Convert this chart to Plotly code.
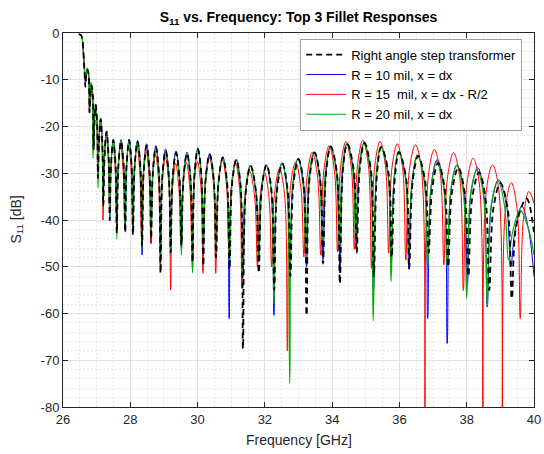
import plotly.graph_objects as go

# ---------------- data ----------------
freq_ticks = [26, 28, 30, 32, 34, 36, 38, 40]
db_ticks = [0, -10, -20, -30, -40, -50, -60, -70, -80]

legend_names = ["Right angle step transformer",
                "R = 10 mil, x = dx",
                "R = 15\u00a0 mil, x = dx - R/2",
                "R = 20 mil, x = dx"]

# curve vertices; after the initial roll-off, each row is one lobe:
# dip, left shoulder, peak, right shoulder
black_f = [26.47, 26.53, 26.57, 26.60, 26.635,
           26.665, 26.688, 26.73, 26.768,
           26.79, 26.812, 26.85, 26.888,
           26.91, 26.933, 26.975, 27.017,
           27.04, 27.069, 27.12, 27.171,
           27.20, 27.234, 27.295, 27.356,
           27.39, 27.428, 27.495, 27.562,
           27.60, 27.645, 27.725, 27.805,
           27.85, 27.891, 27.965, 28.039,
           28.08, 28.129, 28.215, 28.301,
           28.35, 28.399, 28.485, 28.571,
           28.62, 28.670, 28.76, 28.850,
           28.90, 28.954, 29.05, 29.146,
           29.20, 29.258, 29.36, 29.462,
           29.52, 29.579, 29.685, 29.791,
           29.85, 29.908, 30.01, 30.112,
           30.17, 30.238, 30.36, 30.482,
           30.55, 30.622, 30.75, 30.878,
           30.95, 31.022, 31.15, 31.278,
           31.35, 31.435, 31.58, 31.735,
           31.82, 31.903, 32.05, 32.197,
           32.28, 32.366, 32.52, 32.674,
           32.76, 32.846, 33.0, 33.154,
           33.24, 33.328, 33.48, 33.642,
           33.73, 33.82, 33.96, 34.14,
           34.23, 34.32, 34.45, 34.64,
           34.73, 34.822, 34.96, 35.148,
           35.24, 35.335, 35.46, 35.675,
           35.77, 35.864, 35.99, 36.196,
           36.29, 36.394, 36.56, 36.766,
           36.87, 36.974, 37.15, 37.346,
           37.45, 37.558, 37.75, 37.942,
           38.05, 38.162, 38.37, 38.558,
           38.67, 38.791, 39.0, 39.219,
           39.34, 39.48, 39.78,
           40.0]
black_db = [-0.3, -0.4, -1.2, -3.5, -7.5,
            -11.5, -9.3, -7.9, -9.3,
            -17.0, -13.5, -11.2, -13.5,
            -25.0, -19.7, -15.4, -19.7,
            -31.0, -23.9, -18.4, -23.9,
            -37.0, -26.6, -21.1, -26.6,
            -40.0, -28.4, -22.9, -28.4,
            -42.8, -28.7, -23.2, -28.7,
            -42.6, -28.4, -22.9, -28.4,
            -43.2, -28.7, -23.2, -28.7,
            -45.5, -29.6, -24.1, -29.6,
            -44.0, -29.9, -24.4, -29.9,
            -51.4, -30.7, -25.2, -30.7,
            -47.0, -31.1, -25.6, -31.1,
            -45.5, -31.3, -25.8, -31.3,
            -49.0, -30.3, -24.8, -30.3,
            -49.8, -31.4, -25.9, -31.4,
            -48.0, -32.1, -26.6, -32.1,
            -50.5, -32.6, -27.1, -32.6,
            -67.5, -33.9, -28.4, -33.9,
            -51.3, -33.7, -28.2, -33.7,
            -55.0, -33.4, -27.9, -33.4,
            -52.0, -32.5, -27.0, -32.5,
            -60.4, -31.1, -25.6, -31.1,
            -49.3, -29.8, -24.3, -29.8,
            -53.6, -29.2, -23.7, -29.2,
            -47.1, -29.0, -23.5, -29.0,
            -52.0, -29.9, -24.4, -29.9,
            -48.0, -31.0, -25.5, -31.0,
            -50.4, -31.8, -26.3, -31.8,
            -47.0, -33.3, -27.8, -33.3,
            -50.0, -34.3, -28.8, -34.3,
            -52.0, -35.3, -29.8, -35.3,
            -55.0, -37.6, -32.1, -37.6,
            -56.8, -40.9, -35.4,
            -42.6]

blue_f = [26.47, 26.53, 26.57, 26.60, 26.635,
          26.665, 26.688, 26.73, 26.768,
          26.79, 26.812, 26.85, 26.888,
          26.91, 26.933, 26.975, 27.017,
          27.04, 27.069, 27.12, 27.171,
          27.20, 27.234, 27.295, 27.356,
          27.39, 27.428, 27.495, 27.562,
          27.60, 27.645, 27.725, 27.805,
          27.85, 27.891, 27.965, 28.039,
          28.08, 28.129, 28.215, 28.301,
          28.35, 28.399, 28.485, 28.571,
          28.62, 28.670, 28.76, 28.850,
          28.90, 28.954, 29.05, 29.146,
          29.20, 29.258, 29.36, 29.462,
          29.52, 29.579, 29.685, 29.791,
          29.85, 29.908, 30.01, 30.112,
          30.17, 30.238, 30.36, 30.482,
          30.55, 30.62, 30.75, 30.87,
          30.94, 31.012, 31.15, 31.278,
          31.35, 31.435, 31.57, 31.735,
          31.82, 31.901, 32.04, 32.189,
          32.27, 32.356, 32.51, 32.664,
          32.75, 32.836, 32.99, 33.154,
          33.24, 33.328, 33.47, 33.642,
          33.73, 33.82, 33.95, 34.14,
          34.23, 34.32, 34.44, 34.63,
          34.72, 34.812, 34.95, 35.138,
          35.23, 35.324, 35.45, 35.656,
          35.75, 35.845, 35.98, 36.185,
          36.28, 36.381, 36.54, 36.739,
          36.84, 36.944, 37.12, 37.316,
          37.42, 37.528, 37.71, 37.912,
          38.02, 38.126, 38.33, 38.504,
          38.61, 38.736, 38.95, 39.184,
          39.31, 39.43, 39.64, 39.85,
          40.0]
blue_db = [-0.3, -0.4, -1.2, -3.5, -7.5,
           -11.0, -9.3, -7.9, -9.3,
           -17.0, -13.5, -11.2, -13.5,
           -25.0, -19.6, -15.3, -19.6,
           -31.0, -23.8, -18.3, -23.8,
           -36.0, -26.5, -21.0, -26.5,
           -40.2, -28.2, -22.7, -28.2,
           -42.0, -28.3, -22.8, -28.3,
           -41.0, -28.2, -22.7, -28.2,
           -42.0, -28.5, -23.0, -28.5,
           -47.5, -29.2, -23.7, -29.2,
           -45.0, -29.6, -24.1, -29.6,
           -48.0, -30.3, -24.8, -30.3,
           -46.0, -30.7, -25.2, -30.7,
           -46.0, -31.0, -25.5, -31.0,
           -50.5, -30.4, -24.9, -30.4,
           -47.0, -31.3, -25.8, -31.3,
           -47.0, -32.0, -26.5, -32.0,
           -61.1, -32.5, -27.0, -32.5,
           -52.0, -34.0, -28.5, -34.0,
           -49.0, -33.7, -28.2, -33.7,
           -60.4, -33.3, -27.8, -33.3,
           -52.0, -32.3, -26.8, -32.3,
           -50.0, -31.0, -25.5, -31.0,
           -48.5, -29.8, -24.3, -29.8,
           -51.3, -29.2, -23.7, -29.2,
           -46.0, -29.1, -23.6, -29.1,
           -55.0, -29.8, -24.3, -29.8,
           -50.0, -30.8, -25.3, -30.8,
           -50.5, -31.6, -26.1, -31.6,
           -61.1, -32.6, -27.1, -32.6,
           -66.4, -33.7, -28.2, -33.7,
           -54.0, -34.3, -28.8, -34.3,
           -58.6, -36.9, -31.4, -36.9,
           -50.0, -42.5, -37.0, -42.5,
           -52.1]

red_f = [26.47, 26.53, 26.57, 26.60, 26.63,
         26.66, 26.682, 26.72, 26.758,
         26.78, 26.80, 26.835, 26.87,
         26.89, 26.915, 26.96, 27.005,
         27.03, 27.059, 27.11, 27.161,
         27.19, 27.224, 27.285, 27.346,
         27.38, 27.418, 27.485, 27.552,
         27.59, 27.633, 27.71, 27.787,
         27.83, 27.873, 27.95, 28.027,
         28.07, 28.117, 28.20, 28.283,
         28.33, 28.38, 28.47, 28.56,
         28.61, 28.66, 28.75, 28.84,
         28.89, 28.946, 29.045, 29.144,
         29.20, 29.254, 29.35, 29.446,
         29.50, 29.559, 29.665, 29.771,
         29.83, 29.889, 29.995, 30.101,
         30.16, 30.228, 30.35, 30.472,
         30.54, 30.61, 30.735, 30.86,
         30.93, 31.00, 31.125, 31.25,
         31.32, 31.403, 31.55, 31.697,
         31.78, 31.856, 31.99, 32.124,
         32.20, 32.285, 32.435, 32.585,
         32.67, 32.758, 32.915, 33.072,
         33.16, 33.25, 33.41, 33.57,
         33.66, 33.75, 33.91, 34.07,
         34.16, 34.25, 34.41, 34.57,
         34.66, 34.752, 34.915, 35.078,
         35.17, 35.262, 35.425, 35.588,
         35.68, 35.772, 35.935, 36.098,
         36.19, 36.293, 36.475, 36.657,
         36.76, 36.861, 37.04, 37.219,
         37.32, 37.424, 37.61, 37.796,
         37.90, 38.004, 38.19, 38.376,
         38.48, 38.584, 38.77, 38.956,
         39.06, 39.155, 39.325, 39.495,
         39.59, 39.69, 39.85,
         40.0]
red_db = [-0.3, -0.4, -1.2, -3.5, -7.0,
          -10.0, -8.9, -8.0, -8.9,
          -17.0, -14.0, -11.5, -14.0,
          -24.0, -19.5, -15.8, -19.5,
          -30.0, -23.8, -18.8, -23.8,
          -40.0, -27.0, -21.5, -27.0,
          -37.0, -29.0, -23.5, -29.0,
          -40.0, -29.5, -24.0, -29.5,
          -40.0, -29.5, -24.0, -29.5,
          -41.0, -29.8, -24.3, -29.8,
          -43.0, -30.8, -25.3, -30.8,
          -45.0, -31.5, -26.0, -31.5,
          -50.0, -32.1, -26.6, -32.1,
          -55.0, -33.4, -27.9, -33.4,
          -45.0, -33.2, -27.7, -33.2,
          -45.0, -33.0, -27.5, -33.0,
          -51.4, -32.1, -26.6, -32.1,
          -51.4, -32.5, -27.0, -32.5,
          -47.0, -33.3, -27.8, -33.3,
          -54.6, -35.1, -29.6, -35.1,
          -50.0, -35.3, -29.8, -35.3,
          -50.0, -34.5, -29.0, -34.5,
          -68.0, -33.1, -27.6, -33.1,
          -47.9, -31.0, -25.5, -31.0,
          -47.5, -29.6, -24.1, -29.6,
          -46.8, -28.7, -23.2, -28.7,
          -46.3, -28.4, -22.9, -28.4,
          -50.4, -28.7, -23.2, -28.7,
          -47.1, -29.2, -23.7, -29.2,
          -48.6, -29.4, -23.9, -29.4,
          -95.0, -30.4, -24.9, -30.4,
          -49.6, -31.1, -25.6, -31.1,
          -55.1, -32.3, -26.8, -32.3,
          -95.0, -33.7, -28.2, -33.7,
          -95.0, -37.5, -32.0, -37.5,
          -61.1, -39.4, -33.9,
          -36.5]

green_f = [26.47, 26.53, 26.57, 26.60, 26.63,
           26.665, 26.686, 26.72, 26.759,
           26.78, 26.80, 26.835, 26.87,
           26.89, 26.917, 26.965, 27.013,
           27.04, 27.067, 27.115, 27.163,
           27.19, 27.226, 27.29, 27.354,
           27.39, 27.428, 27.495, 27.562,
           27.60, 27.645, 27.725, 27.805,
           27.85, 27.891, 27.965, 28.039,
           28.08, 28.129, 28.215, 28.301,
           28.35, 28.399, 28.485, 28.571,
           28.62, 28.670, 28.76, 28.850,
           28.90, 28.954, 29.05, 29.146,
           29.20, 29.258, 29.36, 29.462,
           29.52, 29.579, 29.685, 29.791,
           29.85, 29.908, 30.0, 30.112,
           30.17, 30.238, 30.36, 30.482,
           30.55, 30.622, 30.75, 30.878,
           30.95, 31.020, 31.15, 31.270,
           31.34, 31.426, 31.56, 31.734,
           31.82, 31.901, 32.04, 32.189,
           32.27, 32.356, 32.51, 32.654,
           32.74, 32.826, 32.98, 33.134,
           33.22, 33.308, 33.46, 33.622,
           33.71, 33.80, 33.95, 34.12,
           34.21, 34.298, 34.44, 34.612,
           34.70, 34.794, 34.94, 35.126,
           35.22, 35.315, 35.44, 35.655,
           35.75, 35.844, 35.97, 36.176,
           36.27, 36.373, 36.53, 36.737,
           36.84, 36.944, 37.11, 37.316,
           37.42, 37.524, 37.70, 37.896,
           38.00, 38.11, 38.30, 38.50,
           38.61, 38.723, 38.93, 39.127,
           39.24, 39.36, 39.59, 39.82,
           40.0]
green_db = [-0.3, -0.4, -1.2, -3.5, -7.0,
            -10.0, -8.6, -7.5, -8.6,
            -16.0, -12.9, -10.5, -12.9,
            -26.8, -20.4, -15.2, -20.4,
            -33.2, -23.8, -18.3, -23.8,
            -36.5, -26.5, -21.0, -26.5,
            -40.0, -28.3, -22.8, -28.3,
            -44.1, -28.5, -23.0, -28.5,
            -42.6, -28.4, -22.9, -28.4,
            -42.0, -28.8, -23.3, -28.8,
            -46.1, -29.7, -24.2, -29.7,
            -43.0, -30.1, -24.6, -30.1,
            -48.0, -30.9, -25.4, -30.9,
            -47.0, -31.3, -25.8, -31.3,
            -47.5, -31.5, -26.0, -31.5,
            -51.3, -30.1, -24.6, -30.1,
            -46.0, -31.8, -26.3, -31.8,
            -47.0, -32.2, -26.7, -32.2,
            -49.8, -32.7, -27.2, -32.7,
            -52.0, -33.8, -28.3, -33.8,
            -48.0, -33.9, -28.4, -33.9,
            -58.0, -33.5, -28.0, -33.5,
            -75.0, -32.5, -27.0, -32.5,
            -47.4, -30.9, -25.4, -30.9,
            -45.0, -29.7, -24.2, -29.7,
            -46.0, -29.1, -23.6, -29.1,
            -44.0, -29.0, -23.5, -29.0,
            -61.6, -29.8, -24.3, -29.8,
            -53.2, -30.9, -25.4, -30.9,
            -47.0, -31.6, -26.1, -31.6,
            -50.0, -33.0, -27.5, -33.0,
            -50.0, -33.9, -28.4, -33.9,
            -56.8, -34.8, -29.3, -34.8,
            -58.6, -37.1, -31.6, -37.1,
            -48.6, -42.7, -37.9, -41.5,
            -47.5]

# ---------------- figure ----------------
FONT = "Liberation Sans, Arial, Helvetica, sans-serif"
AX = "#262626"

fig = go.Figure()
line_shape = dict(shape="spline", smoothing=1.0)
fig.add_trace(go.Scatter(x=blue_f, y=blue_db, mode="lines", name=legend_names[1],
                         legendrank=2, line=dict(color="rgb(0,0,255)", width=1, **line_shape)))
fig.add_trace(go.Scatter(x=red_f, y=red_db, mode="lines", name=legend_names[2],
                         legendrank=3, line=dict(color="rgb(255,0,0)", width=1, **line_shape)))
fig.add_trace(go.Scatter(x=green_f, y=green_db, mode="lines", name=legend_names[3],
                         legendrank=4, line=dict(color="rgb(0,175,0)", width=1.2, **line_shape)))
fig.add_trace(go.Scatter(x=black_f, y=black_db, mode="lines", name=legend_names[0],
                         legendrank=1, line=dict(color="black", width=1.8, dash="6px,4px", **line_shape)))

L, R, T, B = 63, 10, 33, 47
fig.update_layout(
    width=544, height=454,
    margin=dict(l=L, r=R, t=T, b=B, pad=0, autoexpand=False),
    paper_bgcolor="white", plot_bgcolor="white",
    font=dict(family=FONT, size=13, color=AX),
    title=dict(text="<b>S<sub>11</sub> vs. Frequency: Top 3 Fillet Responses</b>",
               x=(L + (544 - L - R) / 2) / 544, xanchor="center", xref="container",
               y=1 - 17 / 454, yanchor="middle", yref="container",
               font=dict(family=FONT, size=14, color="black")),
    legend=dict(x=0.975, y=0.985, xanchor="right", yanchor="top",
                bgcolor="white", bordercolor="#a0a0a0", borderwidth=1,
                font=dict(family=FONT, size=13, color="black"),
                tracegroupgap=0, itemwidth=40, traceorder="normal"),
    showlegend=True,
)
fig.update_xaxes(range=[26, 40], tickvals=freq_ticks, ticktext=[str(v) for v in freq_ticks],
                 ticks="inside", ticklen=5, tickcolor=AX, tickwidth=1,
                 showline=True, linecolor=AX, linewidth=1, mirror="ticks",
                 showgrid=True, gridcolor="#e0e0e0", gridwidth=1, zeroline=False,
                 tickfont=dict(size=13, color=AX),
                 minor=dict(dtick=0.5, showgrid=True, gridcolor="#e6e6e6", griddash="2px,2px", gridwidth=1))
fig.update_yaxes(range=[-80, 0], tickvals=db_ticks, ticktext=[str(v) for v in db_ticks],
                 ticks="inside", ticklen=5, tickcolor=AX, tickwidth=1,
                 showline=True, linecolor=AX, linewidth=1, mirror="ticks",
                 showgrid=True, gridcolor="#e0e0e0", gridwidth=1, zeroline=False,
                 tickfont=dict(size=13, color=AX),
                 minor=dict(dtick=2, showgrid=True, gridcolor="#e6e6e6", griddash="2px,2px", gridwidth=1))

fig.add_annotation(text="Frequency [GHz]", xref="paper", yref="paper", x=0.5, y=(406.7 - 440) / 373.4,
                   xanchor="center", yanchor="middle", showarrow=False,
                   font=dict(family=FONT, size=14, color=AX))
fig.add_annotation(text="S<sub>11</sub> [dB]", xref="paper", yref="paper", x=(17 - 63.4) / 470.6, y=0.5,
                   xanchor="center", yanchor="middle", textangle=-90, showarrow=False,
                   font=dict(family=FONT, size=14, color=AX))

fig.write_html("out.html", config={"displayModeBar": False})

# remove the browser's default page margin so the figure sits at the window origin
with open("out.html", "r", encoding="utf-8") as fh:
    html = fh.read()
html = html.replace("<body>", '<body style="margin:0;padding:0;">', 1)
html = html.replace("<head>", "<head><style>html,body{margin:0;padding:0;overflow:hidden;}</style>", 1)
with open("out.html", "w", encoding="utf-8") as fh:
    fh.write(html)
